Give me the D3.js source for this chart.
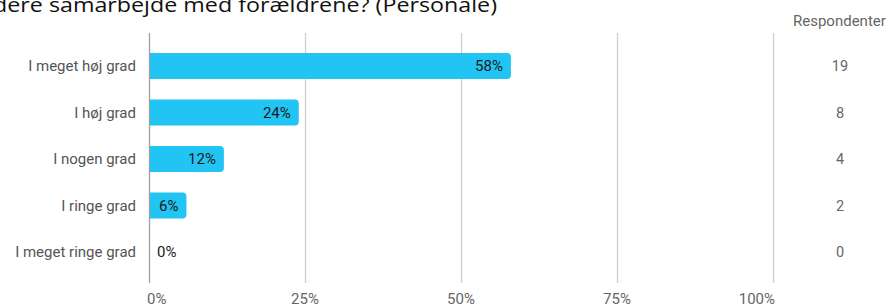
<!DOCTYPE html>
<html>
<head>
<meta charset="utf-8">
<script src="https://cdn.jsdelivr.net/npm/d3@7"></script>
<style>
  body { margin: 0; background: #fff; }
  svg { display: block; }
</style>
</head>
<body>
<svg id="chart"></svg>
<script>
var width = 887; // canvas size
var height = 307;

// Data
var categories = ["I meget høj grad", "I høj grad", "I nogen grad", "I ringe grad", "I meget ringe grad"];
var shares = [0.58, 0.24, 0.12, 0.06, 0.00];
var respondents = [19, 8, 4, 2, 0];
var tickValues = [0, 0.25, 0.5, 0.75, 1];
var titleText = "dere samarbejde med forældrene? (Personale)";

var barColor = "#21c4f3";
var gridTop = 33;
var gridBottom = 283;

var svg = d3.select("#chart").attr("width", width).attr("height", height);

var x = d3.scaleLinear().domain([0, 1]).range([149, 773]);
var y = d3.scaleBand().domain(categories).range([42.75, 275.25]).paddingInner(0.44).paddingOuter(0.22);

// Title (cut off at the top left, as in the source)
svg.append("text")
  .attr("x", -7).attr("y", 12)
  .attr("textLength", 504)
  .attr("lengthAdjust", "spacingAndGlyphs")
  .style("font-family", "'Open Sans', 'Liberation Sans', sans-serif")
  .style("font-size", "20px")
  .style("fill", "#111")
  .text(titleText);

// Vertical grid lines
svg.append("g").selectAll("line").data(tickValues).enter().append("line")
  .attr("x1", function(d) { return Math.round(x(d)) + 0.5; })
  .attr("x2", function(d) { return Math.round(x(d)) + 0.5; })
  .attr("y1", gridTop).attr("y2", gridBottom)
  .style("stroke", function(d) { return d === 0 ? "#9e9e9e" : "#cfcfcf"; })
  .style("stroke-width", 1.3);

// Bars: square on the left, rounded on the right
function barPath(d, i) {
  var x0 = x(0) + 1, x1 = x(d), y0 = y(categories[i]), h = y.bandwidth(), r = 4;
  if (x1 - x0 <= 0) return "";
  r = Math.min(r, (x1 - x0) / 2);
  return "M" + x0 + "," + y0 +
    "H" + (x1 - r) +
    "Q" + x1 + "," + y0 + " " + x1 + "," + (y0 + r) +
    "V" + (y0 + h - r) +
    "Q" + x1 + "," + (y0 + h) + " " + (x1 - r) + "," + (y0 + h) +
    "H" + x0 + "Z";
}
svg.append("g").selectAll("path").data(shares).enter().append("path")
  .attr("d", barPath)
  .style("fill", barColor);

// Percent labels
svg.append("g").selectAll("text").data(shares).enter().append("text")
  .attr("x", function(d) { return d > 0 ? x(d) - 8 : x(0) + 8; })
  .attr("y", function(d, i) { return y(categories[i]) + y.bandwidth() / 2; })
  .attr("dy", "0.35em")
  .attr("text-anchor", function(d) { return d > 0 ? "end" : "start"; })
  .style("font-family", "Roboto, sans-serif")
  .style("font-size", "15px")
  .style("fill", "#1a1a1a")
  .text(function(d) { return Math.round(d * 100) + "%"; });

// Category labels
svg.append("g").selectAll("text").data(categories).enter().append("text")
  .attr("x", 136)
  .attr("y", function(d) { return y(d) + y.bandwidth() / 2; })
  .attr("dy", "0.35em")
  .attr("text-anchor", "end")
  .style("font-family", "Roboto, sans-serif")
  .style("font-size", "15px")
  .style("fill", "#555")
  .text(function(d) { return d; });

// Respondent counts
svg.append("text")
  .attr("x", 793).attr("y", 26)
  .style("font-family", "Roboto, sans-serif")
  .style("font-size", "15px")
  .style("fill", "#666")
  .text("Respondenter");
svg.append("g").selectAll("text").data(respondents).enter().append("text")
  .attr("x", 840)
  .attr("y", function(d, i) { return y(categories[i]) + y.bandwidth() / 2; })
  .attr("dy", "0.35em")
  .attr("text-anchor", "middle")
  .style("font-family", "Roboto, sans-serif")
  .style("font-size", "14.5px")
  .style("fill", "#666")
  .text(function(d) { return d; });

// Bottom axis labels
var fmt = d3.format(".0%");
svg.append("g").selectAll("text").data(tickValues).enter().append("text")
  .attr("x", function(d, i) { return i === 0 ? x(d) - 2 : (i === tickValues.length - 1 ? x(d) + 2 : x(d)); })
  .attr("y", 299)
  .attr("dy", "0.35em")
  .attr("text-anchor", function(d, i) { return i === 0 ? "start" : (i === tickValues.length - 1 ? "end" : "middle"); })
  .style("font-family", "Roboto, sans-serif")
  .style("font-size", "15px")
  .style("fill", "#666")
  .text(function(d) { return fmt(d); });
</script>
</body>
</html>
